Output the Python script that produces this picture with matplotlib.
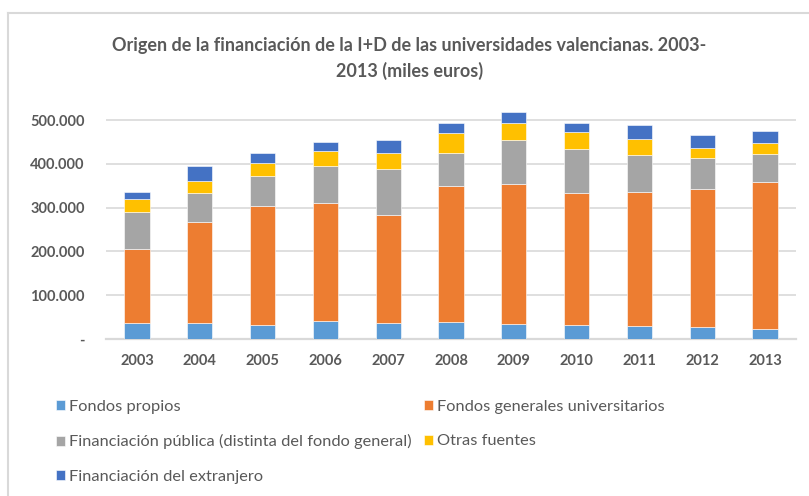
import matplotlib
matplotlib.use("Agg")
import matplotlib.pyplot as plt
from matplotlib.ticker import FuncFormatter, MultipleLocator
from matplotlib.lines import Line2D
import numpy as np

# --- Data (miles de euros) ---
years = ["2003", "2004", "2005", "2006", "2007", "2008", "2009", "2010", "2011", "2012", "2013"]
fondos_propios = [36500, 36500, 31000, 42000, 36500, 39600, 34000, 31000, 29000, 26600, 23500]
fondos_generales = [169000, 231500, 273000, 268500, 246500, 310400, 320600, 303000, 308000, 316000, 334300]
financiacion_publica = [85000, 66000, 69000, 85500, 105000, 76000, 99400, 100000, 84000, 71500, 63800]
otras_fuentes = [30000, 26000, 30000, 33000, 38000, 43600, 38400, 38000, 35600, 22800, 25200]
extranjero = [16000, 36000, 23000, 20000, 28000, 23000, 25600, 20400, 33400, 30200, 28200]

series_labels = [
    "Fondos propios",
    "Fondos generales universitarios",
    "Financiación pública (distinta del fondo general)",
    "Otras fuentes",
    "Financiación del extranjero",
]
series_colors = ["#5B9BD5", "#ED7D31", "#A5A5A5", "#FFC000", "#4472C4"]
text_color = "#595959"
grid_color = "#D9D9D9"

plt.rcParams['font.family'] = ['Lato', 'DejaVu Sans']

fig = plt.figure(figsize=(8.09, 4.96), dpi=100)
ax = fig.add_axes([0.1305, 0.3165, 0.8539, 0.4677])

x = np.arange(len(years))
all_series = [fondos_propios, fondos_generales, financiacion_publica, otras_fuentes, extranjero]
bottom = np.zeros(len(years))
handles = []
for vals, lab, col in zip(all_series, series_labels, series_colors):
    b = ax.bar(x, vals, width=0.4, bottom=bottom, color=col, label=lab,
               edgecolor="white", linewidth=0.4, zorder=3)
    handles.append(b)
    bottom += np.array(vals)

ax.set_xlim(-0.5, len(years) - 0.5)
ax.set_ylim(0, 530000)
ax.yaxis.set_major_locator(MultipleLocator(100000))


def miles(v, pos):
    if v == 0:
        return "-"
    return f"{int(v):,}".replace(",", ".")


ax.yaxis.set_major_formatter(FuncFormatter(miles))
ax.set_xticks(x)
ax.set_xticklabels(years)

ax.grid(axis="y", color=grid_color, linewidth=1.2, zorder=0)
for s in ["top", "right", "left"]:
    ax.spines[s].set_visible(False)
ax.spines["bottom"].set_color(grid_color)
ax.spines["bottom"].set_linewidth(1.6)
ax.tick_params(axis="both", length=0, colors=text_color)
ax.tick_params(axis="y", pad=15, labelsize=10.5)
ax.tick_params(axis="x", pad=11, labelsize=10.5)
for t in ax.get_xticklabels() + ax.get_yticklabels():
    t.set_fontweight("bold")

# Title
fig.text(0.506, 0.908, "Origen de la financiación de la I+D de las universidades valencianas. 2003-",
         ha="center", va="center", fontsize=13, fontweight="bold", color=text_color)
fig.text(0.506, 0.857, "2013 (miles euros)",
         ha="center", va="center", fontsize=13, fontweight="bold", color=text_color)

# Legend: matplotlib fills columns first, so reorder to get Excel's row-wise layout
order = [0, 2, 4, 1, 3]
leg = fig.legend(handles=[handles[i] for i in order], labels=[series_labels[i] for i in order],
                 loc="upper left", bbox_to_anchor=(0.061, 0.207), ncol=2, frameon=False,
                 fontsize=11.8, handlelength=0.55, handleheight=0.55,
                 handletextpad=0.25, columnspacing=0.75, labelspacing=1.25, borderaxespad=0)
for t in leg.get_texts():
    t.set_color(text_color)

# Chart frame (cropped screenshot border)
fig.add_artist(Line2D([8 / 809, 8 / 809], [0, 1 - 13 / 496], transform=fig.transFigure,
                      color=grid_color, linewidth=1.5))
fig.add_artist(Line2D([8 / 809, 1], [1 - 13 / 496, 1 - 13 / 496], transform=fig.transFigure,
                      color=grid_color, linewidth=1.5))

fig.savefig("out.png", dpi=100)
